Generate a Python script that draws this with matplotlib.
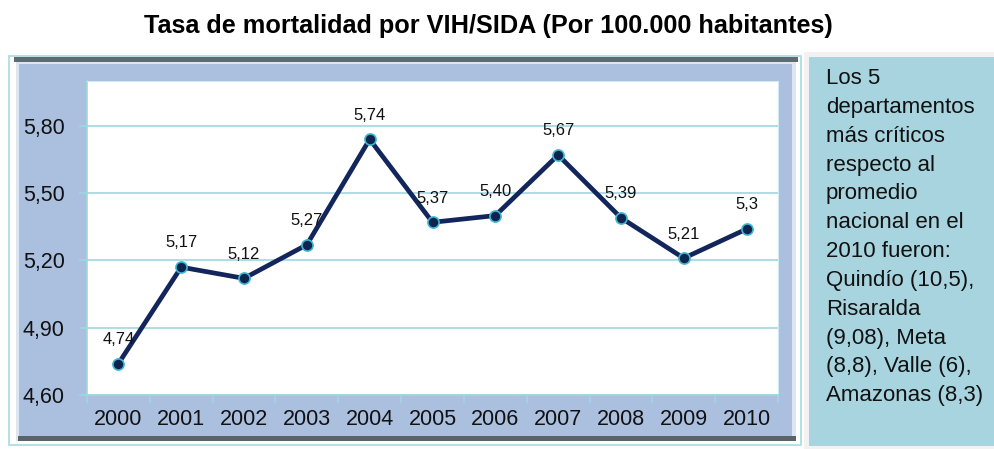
import matplotlib
matplotlib.use("Agg")
import matplotlib.pyplot as plt
from matplotlib.patches import Rectangle

years = ["2000", "2001", "2002", "2003", "2004", "2005", "2006", "2007", "2008", "2009", "2010"]
values = [4.74, 5.17, 5.12, 5.27, 5.74, 5.37, 5.40, 5.67, 5.39, 5.21, 5.34]
labels = ["4,74", "5,17", "5,12", "5,27", "5,74", "5,37", "5,40", "5,67", "5,39", "5,21", "5,3"]
yticks = [4.60, 4.90, 5.20, 5.50, 5.80]
ytick_labels = ["4,60", "4,90", "5,20", "5,50", "5,80"]
title = "Tasa de mortalidad por VIH/SIDA (Por 100.000 habitantes)"
note = ("Los 5\ndepartamentos\nmás críticos\nrespecto al\npromedio\nnacional en el\n"
        "2010 fueron:\nQuindío (10,5),\nRisaralda\n(9,08), Meta\n(8,8), Valle (6),\nAmazonas (8,3)")

plt.rcParams['font.family'] = ['Liberation Sans', 'DejaVu Sans']

W, H = 995, 449
fig = plt.figure(figsize=(W / 100, H / 100), dpi=100)
fig.patch.set_facecolor("white")

def rect(x0, y0, x1, y1, **kw):
    # pixel coords (top-left origin) -> figure coords
    fig.patches.append(Rectangle((x0 / W, 1 - y1 / H), (x1 - x0) / W, (y1 - y0) / H,
                                 transform=fig.transFigure, figure=fig, zorder=-5, **kw))

# outer frame of chart
rect(9, 56, 801, 445, facecolor="white", edgecolor="#a6dbe4", linewidth=1.2)
# bevel / shadow
rect(14, 57, 798, 62, facecolor="#5e6b70", edgecolor="none")
rect(16, 62, 796, 441, facecolor="#dde6f2", edgecolor="none")
rect(18, 436, 796, 441, facecolor="#5a6466", edgecolor="none")
# panel
rect(19, 64, 792, 436, facecolor="#abbfdf", edgecolor="none")
# text box
rect(804, 52, 995, 449, facecolor="#f2f2f2", edgecolor="none")
rect(809, 57, 995, 446, facecolor="#a8d4df", edgecolor="none")

fig.text(0.491, 1 - 26 / H, title, ha="center", va="center", fontsize=18.2, fontweight="bold", color="black")
fig.text(826 / W, 1 - 68 / H, note, ha="left", va="top", fontsize=16, color="#111111", linespacing=1.49)

ax = fig.add_axes([87 / W, 1 - 395 / H, (778 - 87) / W, (395 - 81) / H])
ax.set_zorder(2)
ax.set_facecolor("white")
x = list(range(len(years)))
ax.plot(x, values, color="#13265c", linewidth=3.4, marker="o", markersize=8,
        markerfacecolor="#0d2450", markeredgecolor="#3fb7d0", markeredgewidth=1.2, zorder=3)
for xi, v, lab in zip(x, values, labels):
    ax.annotate(lab, (xi, v), xytext=(0, 12), textcoords="offset points", ha="center", va="bottom",
                fontsize=12, color="#111111")

ax.set_xlim(-0.5, len(years) - 0.5)
ax.set_ylim(4.6, 6.0)
ax.set_yticks(yticks)
ax.set_yticklabels(ytick_labels)
ax.set_xticks(x)
ax.set_xticklabels(years)
ax.set_xticks([i - 0.5 for i in range(len(years) + 1)], minor=True)
ax.tick_params(axis="x", which="major", length=0, pad=10, labelsize=15.5, colors="#111111")
ax.tick_params(axis="x", which="minor", length=6, color="#9fd6e0", width=1.2)
ax.tick_params(axis="y", length=6, color="#9fd6e0", width=1.2, pad=10, labelsize=15.5, labelcolor="#111111")
ax.grid(axis="y", color="#9fd6e0", linewidth=1.2)
ax.set_axisbelow(True)
for s in ["top", "right"]:
    ax.spines[s].set_color("#cfeaf0")
for s in ["left", "bottom"]:
    ax.spines[s].set_color("#9fd6e0")
    ax.spines[s].set_linewidth(1.2)

fig.savefig("out.png", dpi=100)
